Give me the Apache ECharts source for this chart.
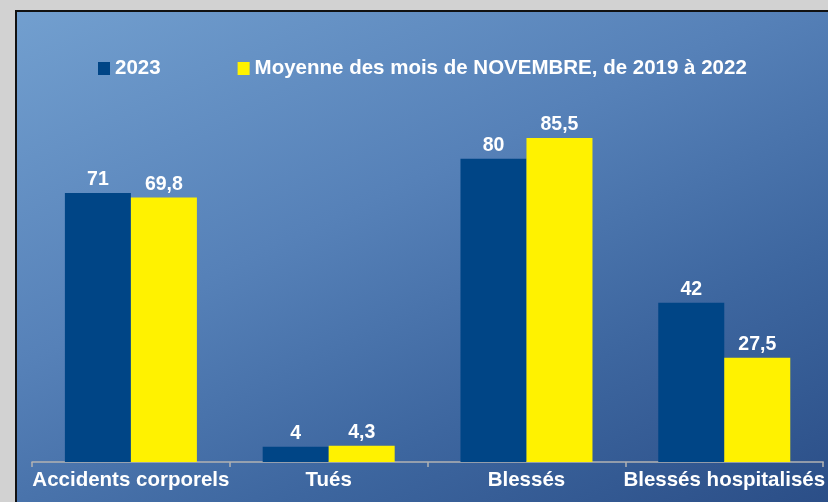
<!DOCTYPE html>
<html><head><meta charset="utf-8">
<script src="https://cdn.jsdelivr.net/npm/echarts@6/dist/echarts.min.js"></script>
<style>
html,body{margin:0;padding:0;width:828px;height:502px;overflow:hidden;background:#d2d2d2;}
#bg{position:absolute;left:15px;top:10px;width:820px;height:500px;border-left:2px solid #111;border-top:2px solid #111;
background:linear-gradient(155deg,#729fcf 0%,#5681b8 40%,#3d669f 70%,#2a4d86 100%);}
#chart{position:absolute;left:0;top:0;width:828px;height:502px;}
</style></head>
<body>
<div id="bg"></div>
<div id="chart"></div>
<script>
const categories = ['Accidents corporels', 'Tués', 'Blessés', 'Blessés hospitalisés'];
const seriesNames = ['2023', 'Moyenne des mois de NOVEMBRE, de 2019 à 2022'];
const values2023 = [71, 4, 80, 42];
const valuesMoyenne = [69.8, 4.3, 85.5, 27.5];

const chart = echarts.init(document.getElementById('chart'), null, {renderer: 'canvas'});
const fmt = p => String(p.value).replace('.', ',');
const labelStyle = {show: true, position: 'top', distance: 3, color: '#fff', fontWeight: 'bold', fontSize: 19.5, fontFamily: 'Liberation Sans', formatter: fmt};
chart.setOption({
  backgroundColor: 'transparent',
  animation: false,
  legend: {
    left: 93, top: 53, itemWidth: 12, itemHeight: 13, itemGap: 77,
    icon: 'rect',
    textStyle: {color: '#fff', fontWeight: 'bold', fontSize: 20.5, fontFamily: 'Liberation Sans', padding: [0, 0, 0, 0]},
    data: seriesNames
  },
  grid: {left: 32, right: 4, top: 83, bottom: 40},
  xAxis: {
    type: 'category', data: categories,
    axisLine: {lineStyle: {color: '#b3b3b3', width: 1.5}},
    axisTick: {show: true, length: 5, lineStyle: {color: '#b3b3b3', width: 1.5}},
    axisLabel: {color: '#fff', fontWeight: 'bold', fontSize: 20.5, fontFamily: 'Liberation Sans', margin: 8, interval: 0}
  },
  yAxis: {type: 'value', min: 0, max: 100, show: false, splitLine: {show: false}},
  series: [
    {name: seriesNames[0], type: 'bar', data: values2023, barWidth: 66, barGap: '0%', itemStyle: {color: '#004586'}, label: labelStyle},
    {name: seriesNames[1], type: 'bar', data: valuesMoyenne, barWidth: 66, barGap: '0%', itemStyle: {color: '#fff200'}, label: labelStyle}
  ]
});
</script>
</body></html>
